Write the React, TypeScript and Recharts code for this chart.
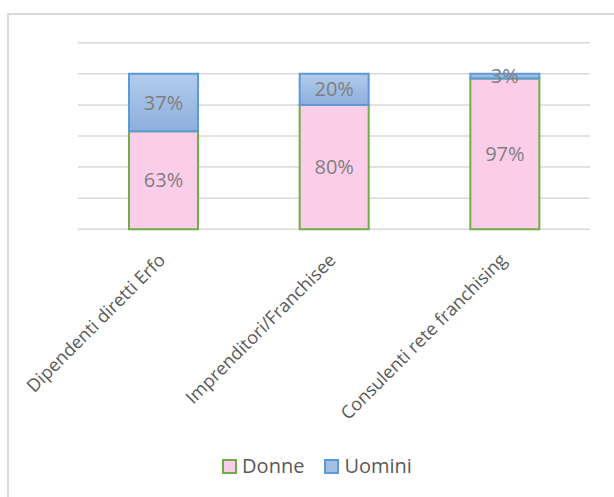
import { BarChart, Bar, XAxis, YAxis, CartesianGrid, Legend, LabelList } from "recharts"

const categories = ["Dipendenti diretti Erfo", "Imprenditori/Franchisee", "Consulenti rete franchising"]
const donne = [63, 80, 97]
const uomini = [37, 20, 3]
const yTicks = [0, 20, 40, 60, 80, 100, 120]

const data = categories.map((name, i) => ({ name, donne: donne[i], uomini: uomini[i] }))

const FONT = '"Open Sans", sans-serif'

function AngledTick({ x, y, payload }: { x?: number; y?: number; payload?: { value: string } }) {
  const tx = (x ?? 0) + 3
  const ty = (y ?? 0) + 24
  return (
    <text
      x={tx}
      y={ty}
      transform={`rotate(-45, ${tx}, ${ty})`}
      textAnchor="end"
      fill="#595959"
      fontSize={18}
      fontFamily={FONT}
    >
      {payload?.value}
    </text>
  )
}

function LegendBox() {
  const items = [
    { label: "Donne", fill: "#FCCDE9", stroke: "#70AD47" },
    { label: "Uomini", fill: "#A3BFE6", stroke: "#5B9BD5" },
  ]
  return (
    <div
      style={{
        display: "flex",
        justifyContent: "center",
        alignItems: "center",
        gap: 20,
        height: 30,
        paddingLeft: 20,
        fontFamily: FONT,
      }}
    >
      {items.map((it) => (
        <div key={it.label} style={{ display: "flex", alignItems: "center", gap: 5 }}>
          <span
            style={{
              display: "inline-block",
              width: 11,
              height: 11,
              background: it.fill,
              border: `2px solid ${it.stroke}`,
            }}
          />
          <span style={{ fontSize: 20, color: "#595959", lineHeight: "30px" }}>{it.label}</span>
        </div>
      ))}
    </div>
  )
}

export default function App() {
  return (
    <div style={{ position: "absolute", left: 0, top: 0, width: 614, height: 497, overflow: "hidden", background: "#fff" }}>
      {/* chart-area frame: only top and left edges fall inside the picture */}
      <div
        style={{
          position: "absolute",
          left: 7,
          top: 13,
          width: 607,
          height: 484,
          borderTop: "2px solid #d9d9d9",
          borderLeft: "2px solid #d9d9d9",
          boxSizing: "border-box",
        }}
      />
      <div style={{ position: "absolute", left: 0, top: 0 }}>
        <BarChart
          width={614}
          height={497}
          data={data}
          margin={{ top: 42.7, right: 24, left: 78, bottom: 0 }}
        >
          <defs>
            <linearGradient id="blueGrad" x1="0" y1="0" x2="0" y2="1">
              <stop offset="0%" stopColor="#B2CCEC" />
              <stop offset="100%" stopColor="#8DAFDD" />
            </linearGradient>
          </defs>
          <CartesianGrid vertical={false} stroke="#d9d9d9" strokeWidth={1.5} />
          <XAxis
            dataKey="name"
            axisLine={false}
            tickLine={false}
            interval={0}
            height={237.7}
            tick={<AngledTick />}
          />
          <YAxis hide domain={[0, 120]} ticks={yTicks} />
          <Legend
            content={<LegendBox />}
            wrapperStyle={{ top: 451, left: 0, width: 614, height: 30 }}
          />
          <Bar
            dataKey="donne"
            name="Donne"
            stackId="a"
            fill="#FCCDE9"
            stroke="#70AD47"
            strokeWidth={2}
            barSize={69}
            isAnimationActive={false}
          >
            <LabelList
              dataKey="donne"
              position="center"
              formatter={(v: number) => `${v}%`}
              fill="#7F7F7F"
              fontSize={20}
              fontFamily={FONT}
            />
          </Bar>
          <Bar
            dataKey="uomini"
            name="Uomini"
            stackId="a"
            fill="url(#blueGrad)"
            stroke="#5B9BD5"
            strokeWidth={2}
            barSize={69}
            isAnimationActive={false}
          >
            <LabelList
              dataKey="uomini"
              position="center"
              formatter={(v: number) => `${v}%`}
              fill="#7F7F7F"
              fontSize={20}
              fontFamily={FONT}
            />
          </Bar>
        </BarChart>
      </div>
    </div>
  )
}
